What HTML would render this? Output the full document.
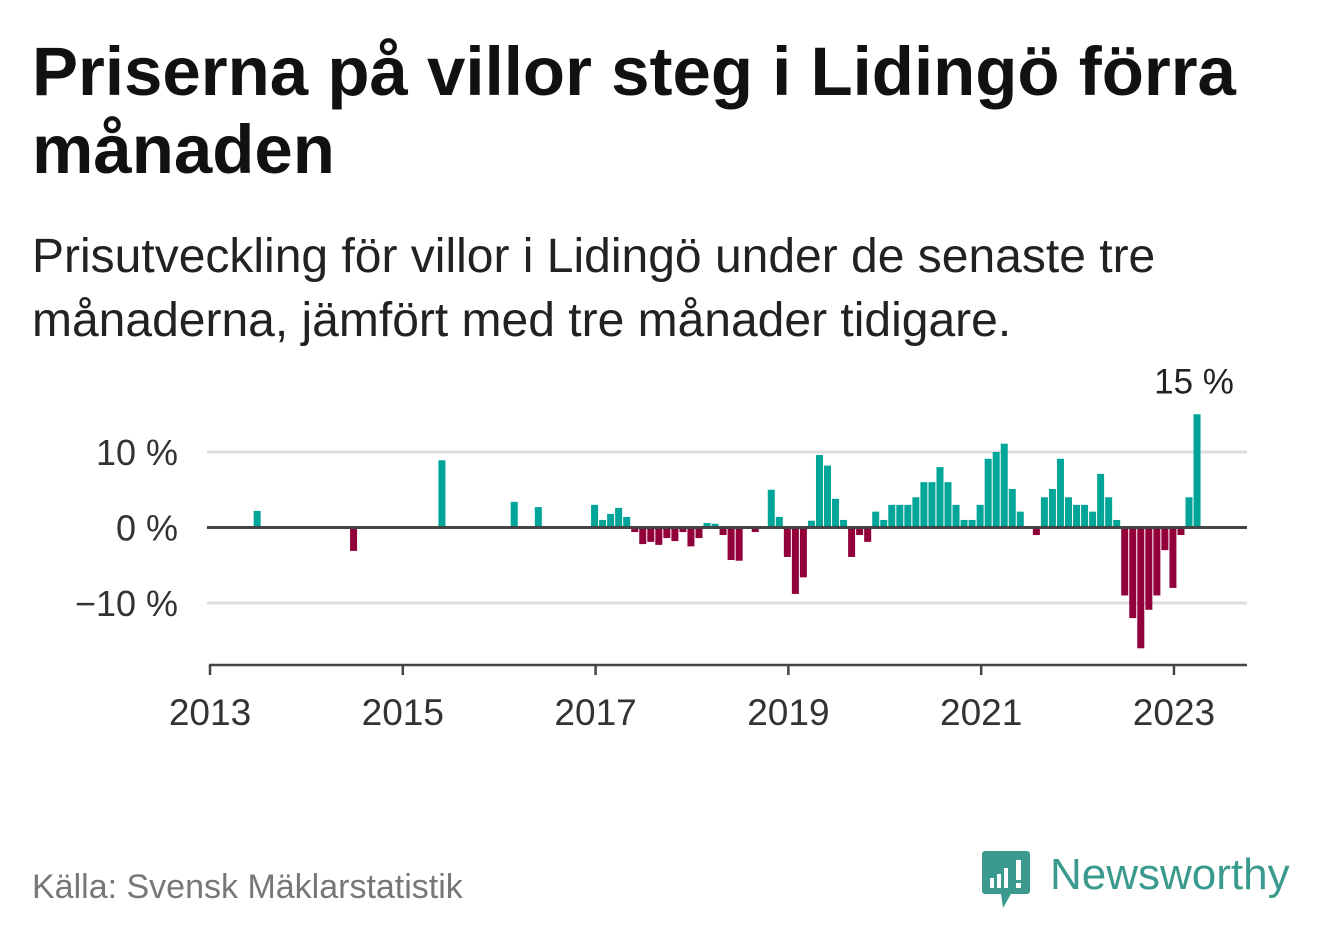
<!DOCTYPE html>
<html><head><meta charset="utf-8">
<style>
body{margin:0;background:#fff;width:1322px;height:939px;overflow:hidden;font-family:"Liberation Sans",sans-serif;}
#title{position:absolute;left:32px;top:33px;font-size:69px;font-weight:bold;color:#111;line-height:78px;margin:0;white-space:nowrap}
#sub{position:absolute;left:32px;top:225px;font-size:48px;color:#222;line-height:64px;margin:0;white-space:nowrap}
#src{position:absolute;left:32px;top:868px;font-size:34px;color:#777}
svg{position:absolute;left:0;top:0}
</style></head><body>
<h1 id="title">Priserna på villor steg i Lidingö förra<br>månaden</h1>
<p id="sub">Prisutveckling för villor i Lidingö under de senaste tre<br>månaderna, jämfört med tre månader tidigare.</p>
<div id="src">Källa: Svensk Mäklarstatistik</div>
<svg id="chart" width="1322" height="939"></svg>
<svg width="1322" height="939">
<path d="M985 851 h42 a3 3 0 0 1 3 3 v37 a3 3 0 0 1 -3 3 h-16 l-8 14 l-2 -14 h-16 a3 3 0 0 1 -3 -3 v-37 a3 3 0 0 1 3 -3z" fill="#3a9a8e"/>
<rect x="990" y="878" width="4" height="10" fill="#fff"/><rect x="997" y="874" width="4" height="14" fill="#fff"/><rect x="1004" y="868" width="4" height="20" fill="#fff"/><rect x="1016" y="860" width="5" height="20" fill="#fff"/><rect x="1016" y="883" width="5" height="5" fill="#fff"/>
<text x="1050" y="889" font-size="44" fill="#3a9a8e" font-family="Liberation Sans, sans-serif">Newsworthy</text>
</svg>
<script>
const years=["2013","2015","2017","2019","2021","2023"];
const yTicks=[10,0,-10];
const yTickLabels=["10 %","0 %","\u221210 %"];
const values=[null,null,null,null,null,2.2,null,null,null,null,null,null,
null,null,null,null,null,-3.1,null,null,null,null,null,null,
null,null,null,null,8.9,null,null,null,null,null,null,null,
null,3.4,null,null,2.7,null,null,null,null,null,null,3.0,
1.0,1.8,2.6,1.4,-0.6,-2.2,-1.9,-2.3,-1.4,-1.8,-0.6,-2.5,
-1.4,0.6,0.5,-1.0,-4.3,-4.4,0,-0.6,0,5.0,1.4,-3.9,
-8.8,-6.6,0.9,9.6,8.2,3.8,1.0,-3.9,-1.0,-1.9,2.1,1.0,
3.0,3.0,3.0,4.0,6.0,6.0,8.0,6.0,3.0,1.0,1.0,3.0,
9.1,10,11.1,5.1,2.1,0,-1.0,4.0,5.1,9.1,4.0,3.0,
3.0,2.1,7.1,4.0,1.0,-9.0,-12.0,-16.0,-10.9,-9.0,-3.0,-8.0,
-1.0,4.0,15.0];
const lastLabel="15 %";
const NS="http://www.w3.org/2000/svg";
const svg=document.getElementById('chart');
const x0=210,pxMonth=8.033,y0=527.5,pxPct=7.55;
const xs=m=>x0+m*pxMonth;
const ys=v=>y0-v*pxPct;
function mk(t,a){const e=document.createElementNS(NS,t);for(const k in a)e.setAttribute(k,a[k]);svg.appendChild(e);return e;}
yTicks.forEach((t,i)=>{
  if(t!==0){const g=mk('line',{x1:207,x2:1247,y1:ys(t),y2:ys(t),stroke:'#ddd','stroke-width':3});
  
  }
  const l=mk('text',{x:178,y:ys(t)+13,'text-anchor':'end','font-size':36,fill:'#333'});
  l.textContent=yTickLabels[i];
  
  
});
values.forEach((v,i)=>{
  if(v===null||v===0)return;
  const top=Math.min(ys(v),y0),h=Math.abs(ys(v)-y0);
  const r=mk('rect',{x:xs(i)+3.5,y:top,width:7,height:h,fill:v>0?'#00a599':'#91003a'});
  
  
});
const z=mk('line',{x1:207,x2:1247,y1:y0,y2:y0,stroke:'#444','stroke-width':3});


const ax=mk('line',{x1:209,x2:1247,y1:665,y2:665,stroke:'#444','stroke-width':2.5});


years.forEach((y,i)=>{
  const x=xs(i*24);
  const t=mk('line',{x1:x,x2:x,y1:665,y2:675,stroke:'#444','stroke-width':2.5});
  
  
  const l=mk('text',{x:x,y:725,'text-anchor':'middle','font-size':37,fill:'#333'});
  l.textContent=y;
  
  
});
const li=values.length-1;
const vl=mk('text',{x:xs(li)+4,y:ys(values[li])-21,'text-anchor':'middle','font-size':35,fill:'#222'});
vl.textContent=lastLabel;


</script>
</body></html>
